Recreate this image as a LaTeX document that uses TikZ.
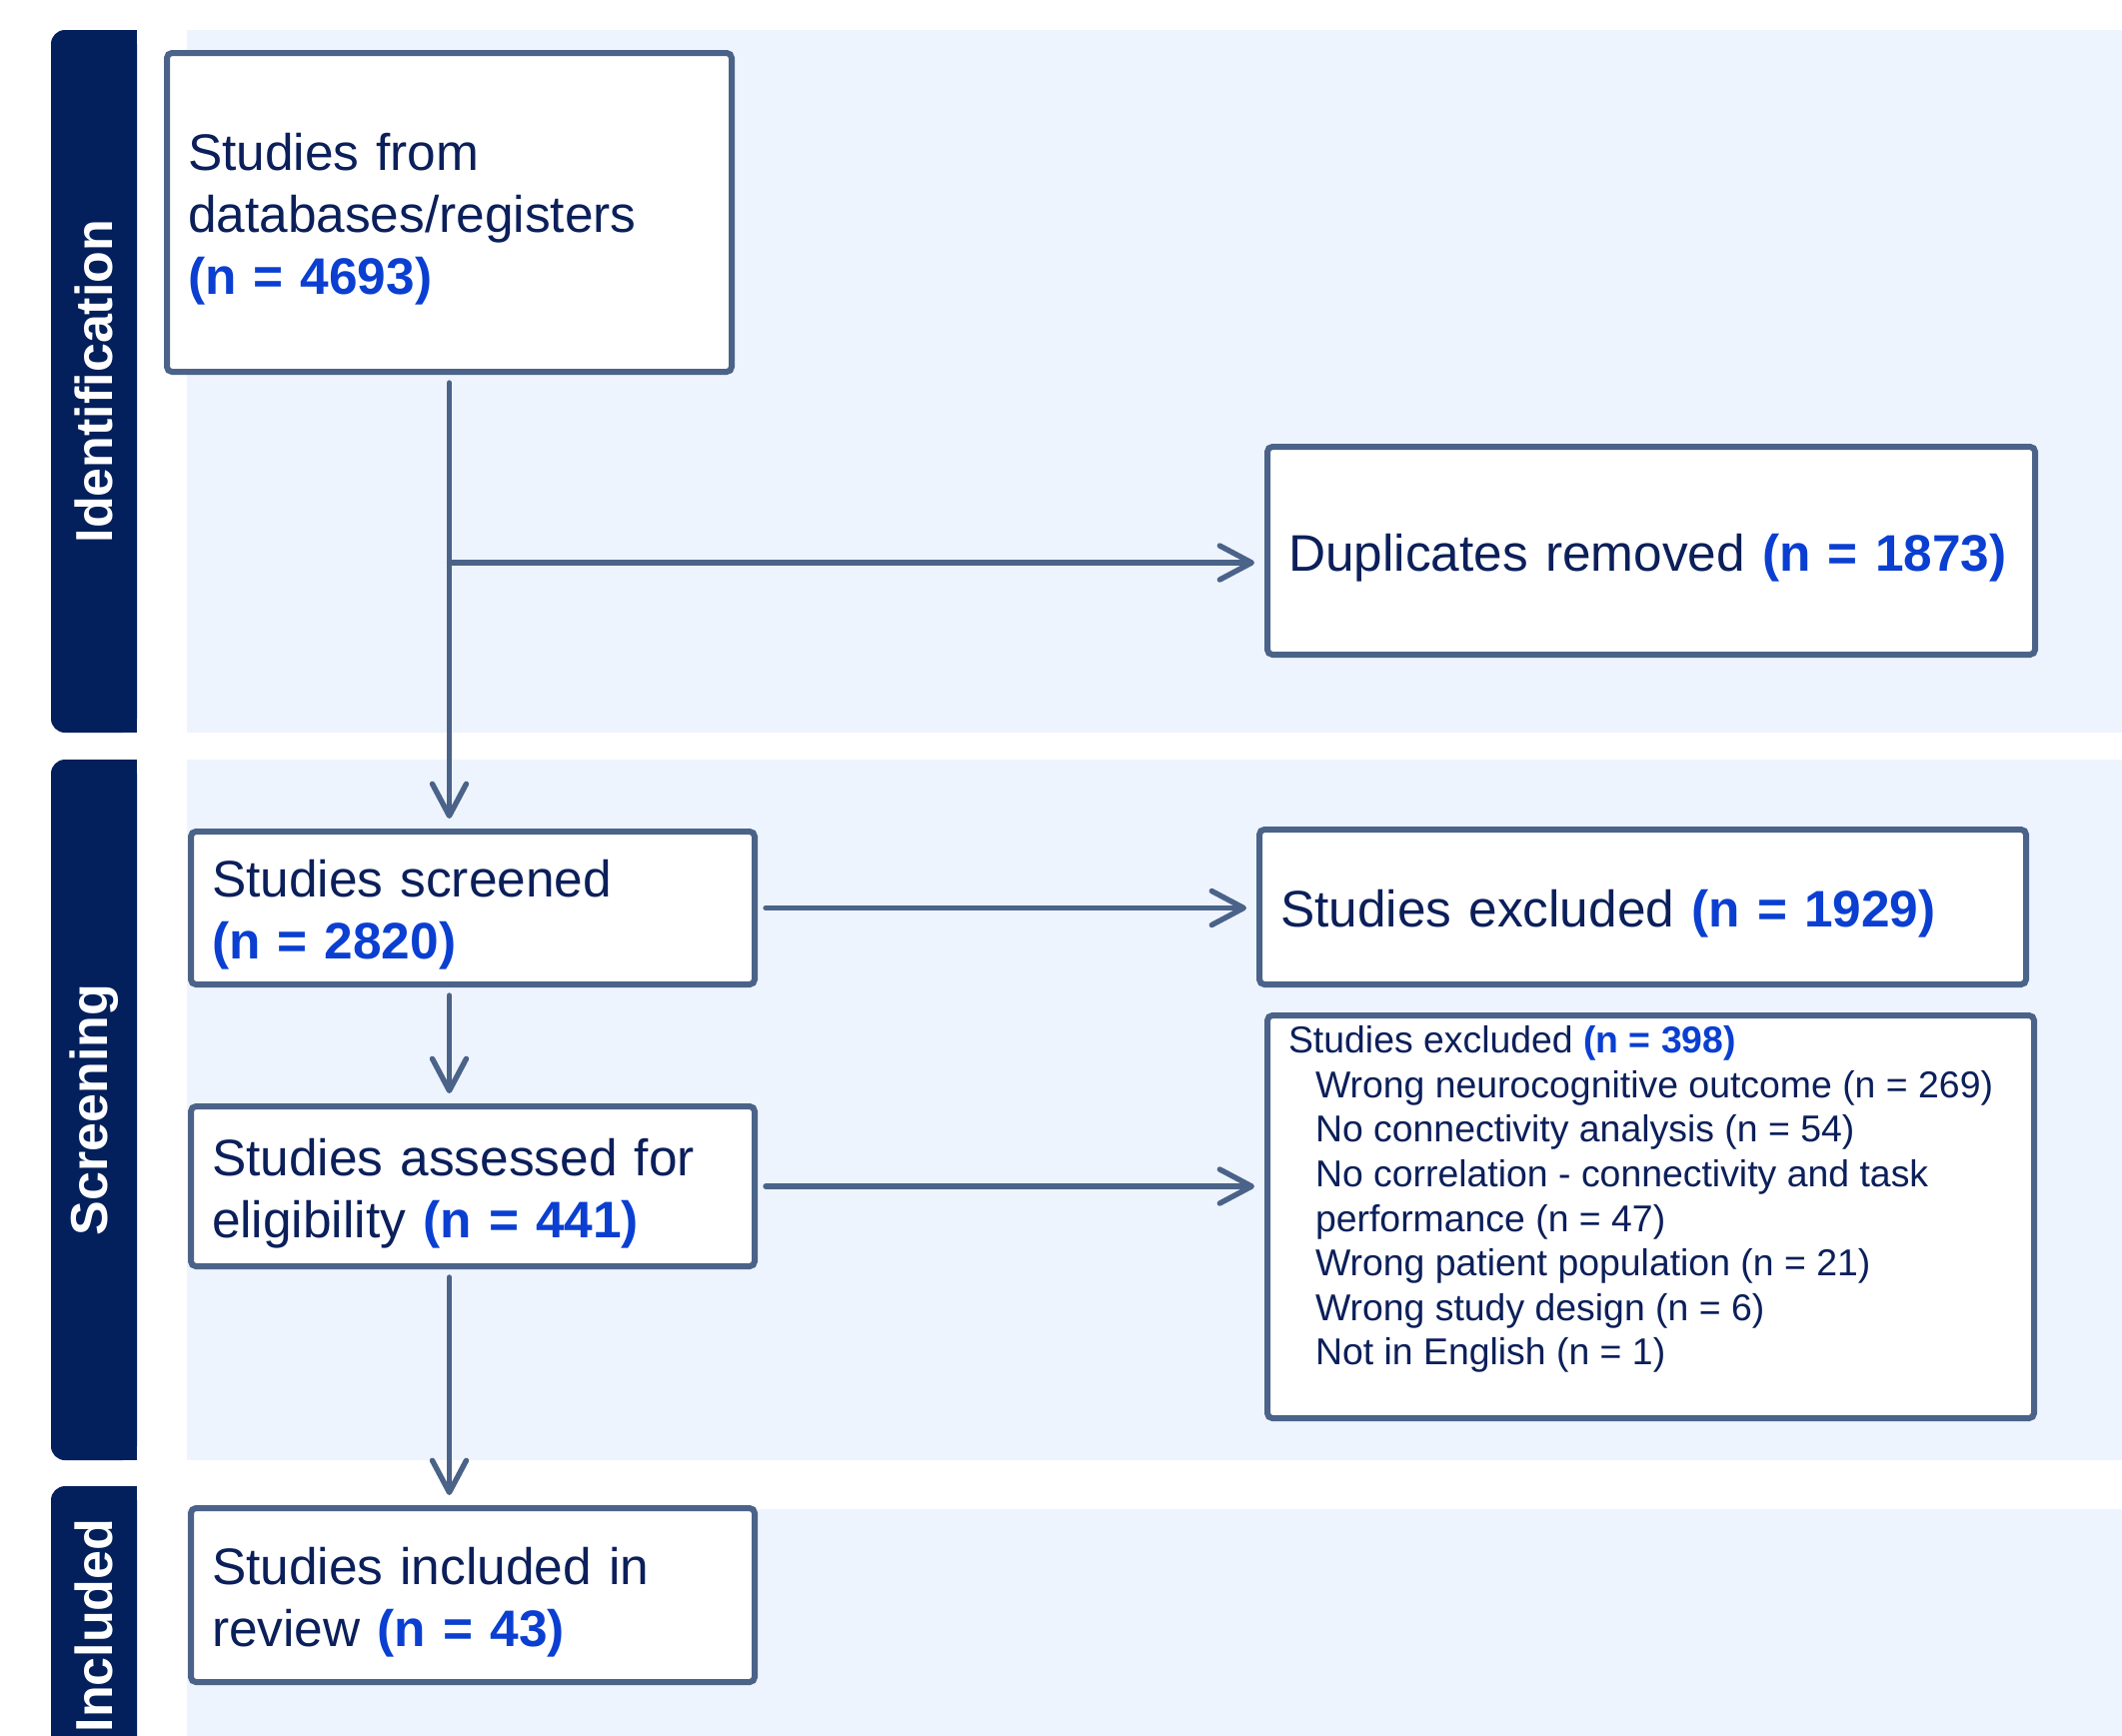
\documentclass[tikz,border=0pt]{standalone}
\usepackage{fontspec}
\setmainfont{Liberation Sans}
\usepackage{xcolor}
\usetikzlibrary{arrows.meta,positioning}

\definecolor{barnavy}{HTML}{03205C}
\definecolor{bandblue}{HTML}{EDF4FE}
\definecolor{boxslate}{HTML}{4B6388}
\definecolor{textnavy}{HTML}{0B1F5A}
\definecolor{numblue}{HTML}{0A3FD1}

\newcommand{\nval}[1]{\textcolor{numblue}{\bfseries(#1)}}
\newcommand{\padtop}{\rule{0pt}{25.5pt}}
\newcommand{\bigtext}{\fontsize{25.7}{31}\selectfont}
\newcommand{\smalltext}{\fontsize{18.7}{22.3}\selectfont}

\tikzset{
  band/.style={fill=bandblue},
  stagebar/.style={fill=barnavy},
  stagelabel/.style={rotate=90, text=white, font=\fontsize{26}{31}\selectfont\bfseries},
  boxframe/.style={draw=boxslate, line width=3pt, fill=white, rounded corners=2.5pt,
    text=textnavy, align=left, inner xsep=10.5pt},
  flowbox/.style={boxframe, font=\bigtext, inner ysep=3pt},
  listbox/.style={boxframe, font=\smalltext, inner ysep=0pt},
  flowarrow/.style={draw=boxslate, line width=2.7pt, line cap=round,
    shorten >=5pt, shorten <=4pt, -{Straight Barb[round,length=16pt,width=17pt]}}
}

\begin{document}
\begin{tikzpicture}[x=0.5pt, y=-0.5pt]
  \useasboundingbox (0,0) rectangle (2123,1736);

  % stage bands and side bars
  \foreach \ytop/\ybot/\bartop/\stage in {30/733/30/Identification,
      760/1461/760/Screening, 1510/1766/1487/Included}{
    \fill[band] (187,\ytop) rectangle (2123,\ybot);
    \fill[stagebar, rounded corners=7pt] (51,\bartop) rectangle (137,\ybot);
    \fill[stagebar] (110,\bartop) rectangle (137,\ybot);
    \node[stagelabel] (stage-\stage) at (94,{(\bartop+\ybot)/2}) {\stage};
  }

  \node[flowbox, text width=261.5pt, minimum height=159.5pt] (records) at (449.5,212.5)
      {\padtop Studies from\\databases/registers\\\nval{n = 4693}};
  \node[flowbox, text width=363pt, minimum height=104pt] (dupes) at (1652,551)
      {\padtop Duplicates removed \nval{n = 1873}};
  \node[flowbox, text width=261pt, minimum height=76.5pt] (screened) at (473,908.5)
      {\padtop Studies screened\\\nval{n = 2820}};
  \node[flowbox, text width=362.5pt, minimum height=77.5pt] (excl1) at (1643.5,907.5)
      {\padtop Studies excluded \nval{n = 1929}};
  \node[flowbox, text width=261pt, minimum height=80pt] (eligible) at (473,1187)
      {\padtop Studies assessed for\\eligibility \nval{n = 441}};
  \node[listbox, minimum height=201.5pt] (excl2) at (1651.5,1217.5)
      {\parbox[c][191pt][t]{362.5pt}{\raggedright
        Studies excluded \nval{n = 398}\\
        \hspace*{13.5pt}Wrong neurocognitive outcome (n = 269)\\
        \hspace*{13.5pt}No connectivity analysis (n = 54)\\
        \hspace*{13.5pt}No correlation - connectivity and task\\
        \hspace*{13.5pt}performance (n = 47)\\
        \hspace*{13.5pt}Wrong patient population (n = 21)\\
        \hspace*{13.5pt}Wrong study design (n = 6)\\
        \hspace*{13.5pt}Not in English (n = 1)}};
  \node[flowbox, text width=261pt, minimum height=87pt] (included) at (473,1596)
      {\padtop Studies included in\\review \nval{n = 43}};

  % connectors
  \path (records.south) ++(0,188) coordinate (split);
  \draw[flowarrow] (records.south) -- (records.south |- screened.north);
  \draw[flowarrow, shorten <=0pt] (split) -- (split -| dupes.west);
  \draw[flowarrow] (screened.east) -- (screened.east -| excl1.west);
  \draw[flowarrow] (screened.south -| records.south) -- (eligible.north -| records.south);
  \draw[flowarrow] (eligible.east) -- (eligible.east -| excl2.west);
  \draw[flowarrow] (eligible.south -| records.south) -- (included.north -| records.south);
\end{tikzpicture}
\end{document}
